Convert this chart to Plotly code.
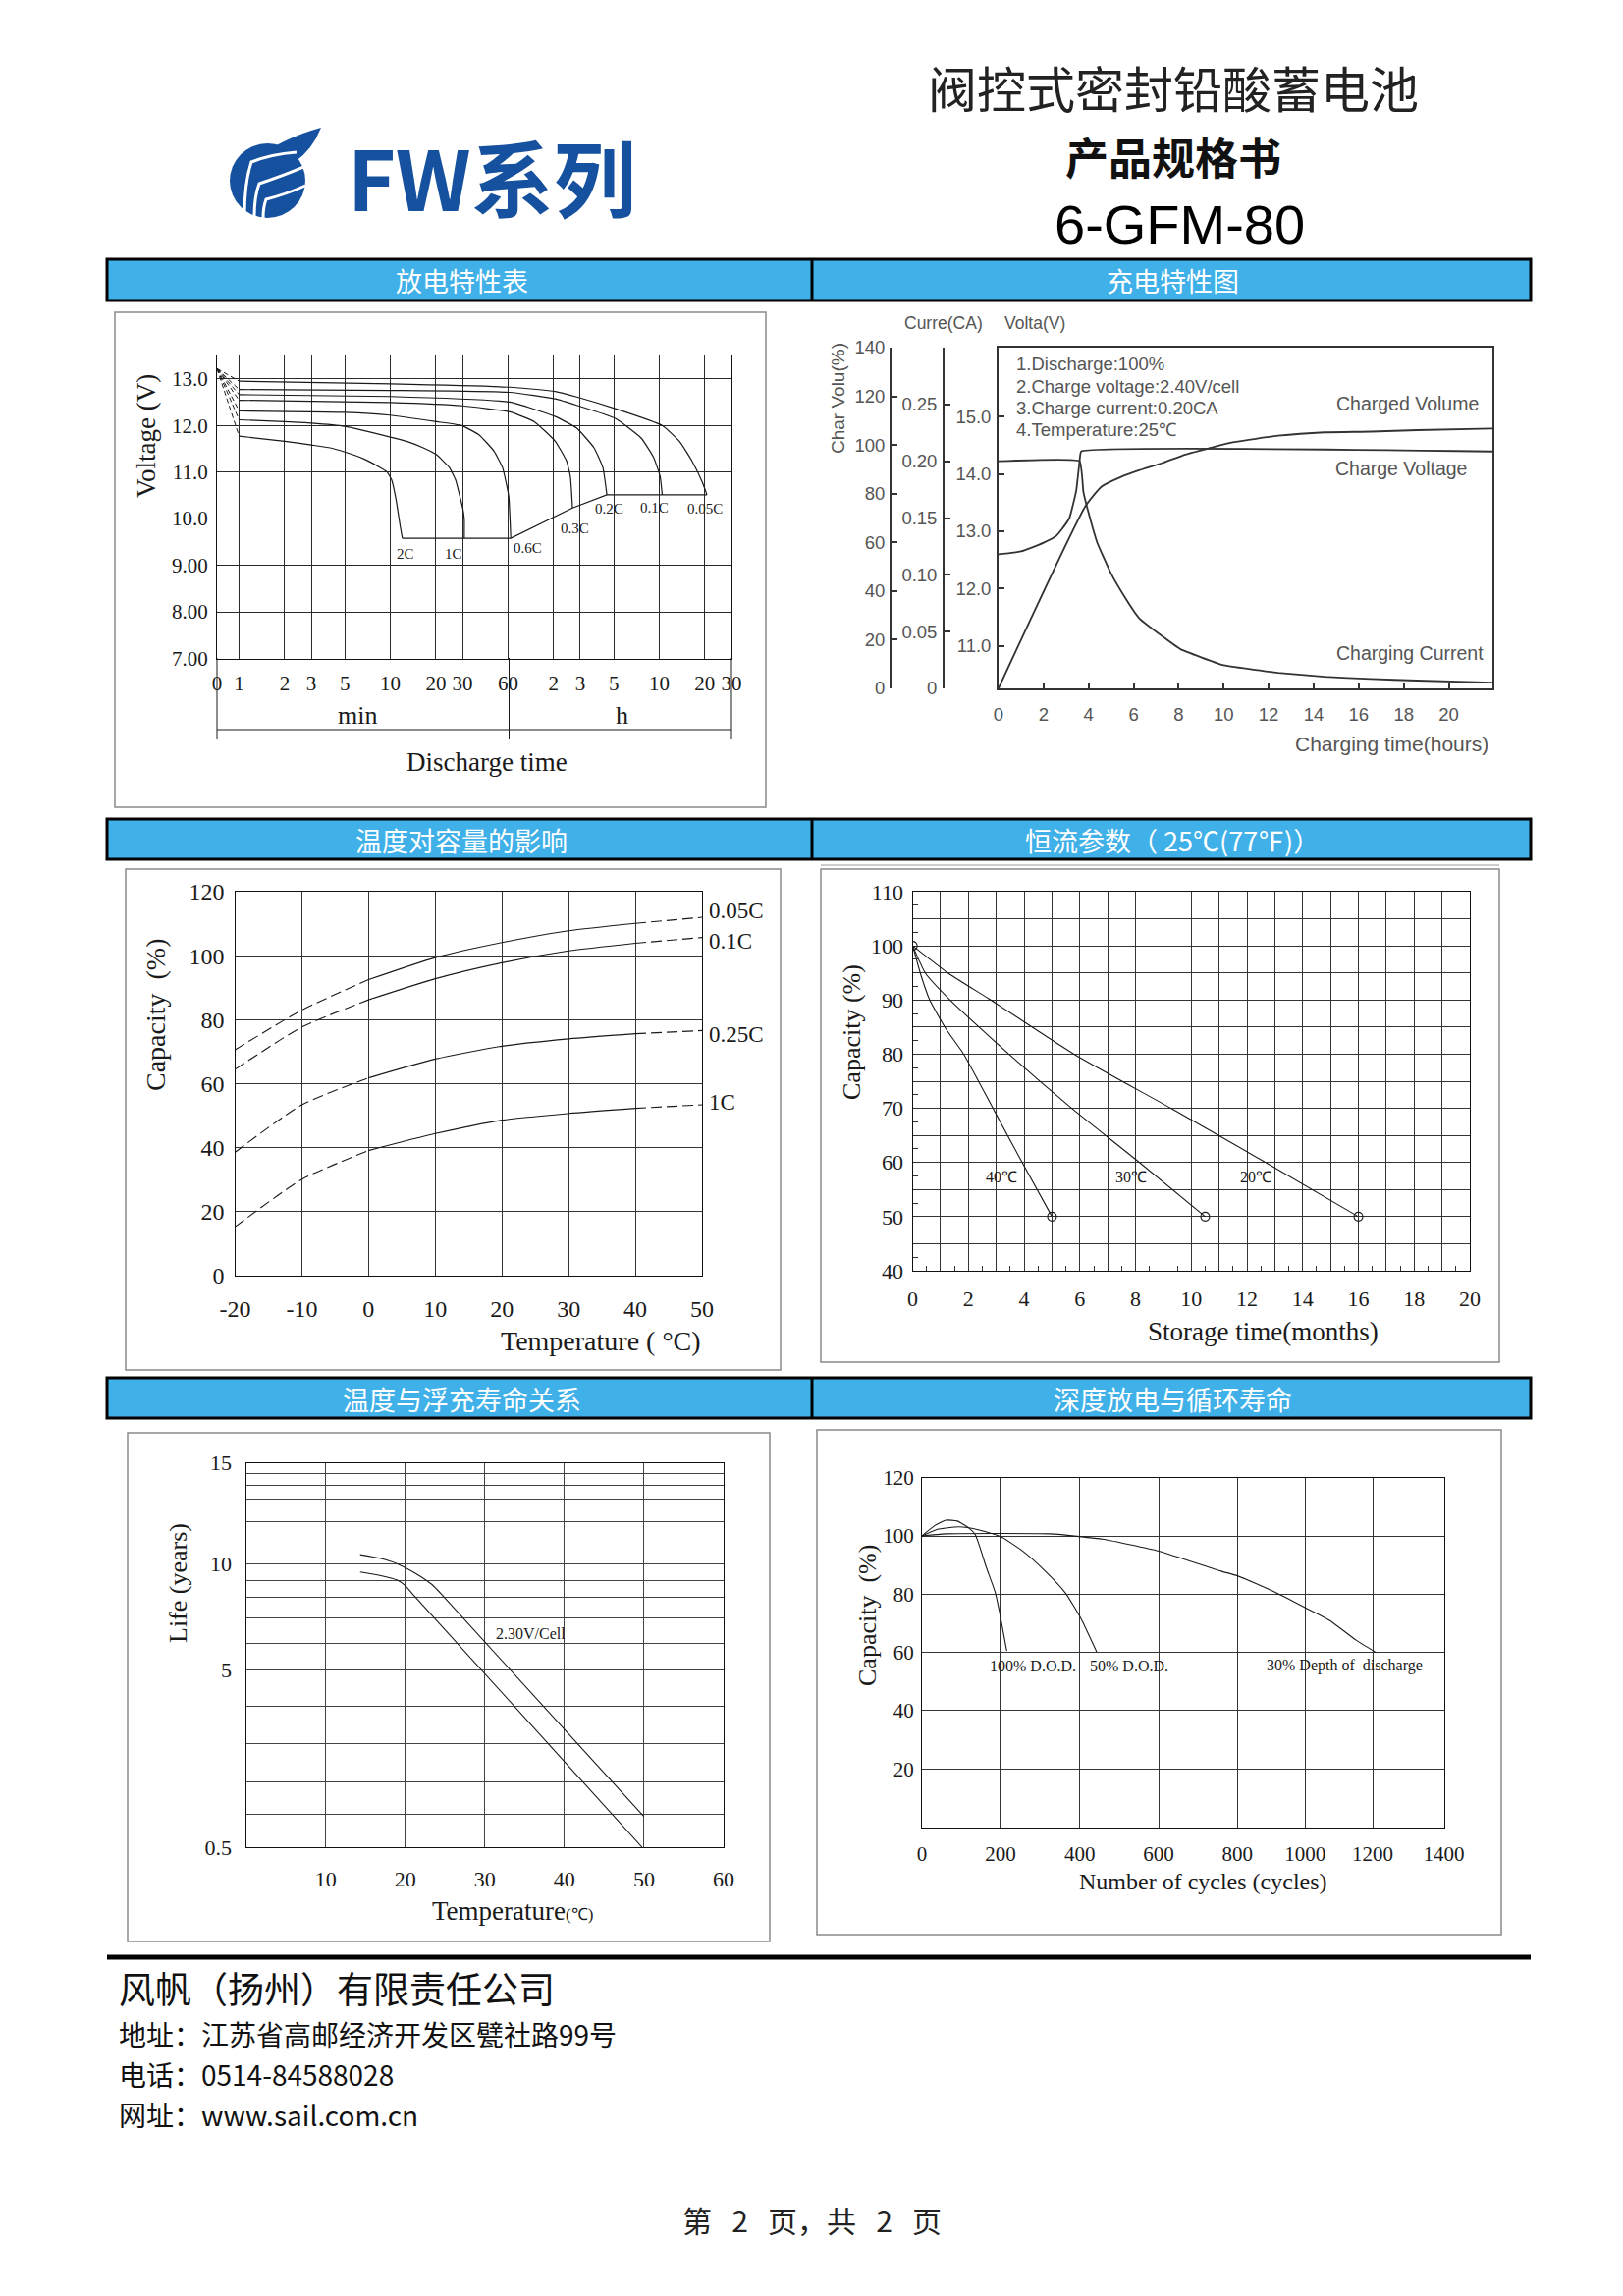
import numpy as np
import plotly.graph_objects as go

# ---------------------------------------------------------------- data
# Chart 1 - discharge characteristics (time in minutes, voltage in V)
DIS_ORIGIN_T = 0.714          # axis origin, printed as "0"
DIS_ORIGIN_V = 13.22
DIS_TICK_MIN = [DIS_ORIGIN_T, 1, 2, 3, 5, 10, 20, 30, 60, 120, 180, 300, 600, 1200, 1800]
DIS_TICK_TEXT = ["0", "1", "2", "3", "5", "10", "20", "30", "60", "2", "3", "5", "10", "20", "30"]
V_TICKS = [7, 8, 9, 10, 11, 12, 13]
V_TICK_TEXT = ["7.00", "8.00", "9.00", "10.0", "11.0", "12.0", "13.0"]
RATES = ["2C", "1C", "0.6C", "0.3C", "0.2C", "0.1C", "0.05C"]
T_2C = [1, 2, 3, 4, 5, 6.7, 8.1, 9.5, 10.2, 10.9, 11.6, 12]
V_2C = [11.77, 11.66, 11.58, 11.52, 11.43, 11.28, 11.14, 11.0, 10.83, 10.41, 9.85, 9.58]
T_1C = [1, 2, 3, 5, 10, 12.8, 16.5, 20.2, 24.5, 27, 28.8, 30.2, 30.8, 30.8]
V_1C = [12.12, 12.08, 12.05, 11.98, 11.75, 11.66, 11.52, 11.37, 11.1, 10.83, 10.48, 10.2, 9.99, 9.58]
T_06C = [1, 5, 9.9, 20.2, 29.4, 38.5, 48.4, 55.1, 60.6, 62.5]
V_06C = [12.31, 12.28, 12.22, 12.08, 12.0, 11.8, 11.45, 11.1, 10.48, 9.58]
T_03C = [1, 10, 30, 61.7, 89.5, 123, 146, 155, 160]
V_03C = [12.54, 12.49, 12.42, 12.29, 12.08, 11.66, 11.24, 10.9, 10.23]
T_02C = [1, 10, 61.7, 123, 171, 222, 254, 270]
V_02C = [12.66, 12.62, 12.50, 12.19, 11.94, 11.52, 11.10, 10.51]
T_01C = [1, 10, 61.7, 123, 171, 307, 455, 551, 608, 627]
V_01C = [12.77, 12.75, 12.71, 12.57, 12.43, 12.15, 11.73, 11.31, 10.90, 10.51]
T_005C = [1, 10, 61.7, 123, 171, 307, 627, 815, 985, 1162, 1239]
V_005C = [12.95, 12.89, 12.82, 12.73, 12.61, 12.36, 12.0, 11.66, 11.24, 10.76, 10.51]

# Chart 2 - charging characteristics (time in hours)
CHG_X_TICKS = [0, 2, 4, 6, 8, 10, 12, 14, 16, 18, 20]
CHG_V_TICKS = [11, 12, 13, 14, 15]
CHG_V_TEXT = ["11.0", "12.0", "13.0", "14.0", "15.0"]
CHG_I_TICKS = [0, 0.05, 0.10, 0.15, 0.20, 0.25]
CHG_I_TEXT = ["0", "0.05", "0.10", "0.15", "0.20", "0.25"]
CHG_P_TICKS = [0, 20, 40, 60, 80, 100, 120, 140]
CHG_T_VOL = [0, 3.87, 4.59, 5.42, 6.24, 7.27, 8.30, 9.33, 10.36, 12.42, 14.48, 16.54, 18.6, 21.94]
CHG_VOL = [0, 75, 83, 86.8, 89.6, 92.6, 96.1, 98.6, 101, 103.8, 105.2, 105.5, 106.1, 106.8]
CHG_T_V = [0, 0.5, 1.0, 1.5, 2.0, 2.53, 2.8, 3.15, 3.3, 3.46, 3.6, 3.67, 21.94]
CHG_V = [12.6, 12.62, 12.65, 12.72, 12.8, 12.91, 13.03, 13.23, 13.45, 13.73, 14.22, 14.39, 14.39]
CHG_T_I = [0, 3.6, 3.77, 3.98, 4.39, 5.0, 5.62, 6.24, 7.27, 8.09, 9.95, 12.42, 14.48, 16.54, 18.6, 21.94]
CHG_I = [0.20, 0.20, 0.173, 0.156, 0.128, 0.101, 0.080, 0.062, 0.046, 0.0345, 0.0207, 0.0138, 0.0102, 0.0083, 0.0069, 0.005]
CHG_NOTES = ["1.Discharge:100%", "2.Charge voltage:2.40V/cell", "3.Charge current:0.20CA", "4.Temperature:25℃"]

# Chart 3 - temperature vs capacity
TEMP_C = [-20, -10, 0, 10, 20, 30, 40, 50]
TEMP_TICKS = [-20, -10, 0, 10, 20, 30, 40, 50]
CAP_TICKS = [0, 20, 40, 60, 80, 100, 120]
CAP_RATES = ["0.05C", "0.1C", "0.25C", "1C"]
CAP_005C = [70.6, 83.0, 92.5, 99.4, 104.1, 107.8, 110.1, 112.0]
CAP_01C = [64.5, 77.7, 86.2, 92.8, 97.8, 101.5, 103.9, 105.7]
CAP_025C = [38.6, 53.4, 61.8, 67.7, 71.7, 74.0, 75.6, 76.6]
CAP_1C = [15.3, 30.1, 39.1, 44.4, 48.6, 50.7, 52.3, 53.4]

# Chart 4 - self discharge (storage months vs capacity %)
STORE_TICKS = [0, 2, 4, 6, 8, 10, 12, 14, 16, 18, 20]
STORE_CAP_TICKS = [40, 50, 60, 70, 80, 90, 100, 110]
STORE_TEMPS = ["40℃", "30℃", "20℃"]
M_40 = [0, 0.3, 0.61, 1.2, 1.83, 2.88, 3.93, 5.0]
C_40 = [100, 94.5, 90, 84.6, 80, 70, 60, 50]
M_30 = [0, 0.45, 1.34, 3.45, 5.71, 8.14, 10.5]
C_30 = [100, 95, 90, 80, 70, 60, 50]
M_20 = [0, 1.26, 2.8, 5.79, 9.27, 12.67, 16.0]
C_20 = [100, 95, 90, 80, 70, 60, 50]

# Chart 5 - float life vs temperature (life in years)
LIFE_X_TICKS = [0, 10, 20, 30, 40, 50, 60]
LIFE_TICK_VALUES = [0.5, 5, 10, 15]
LIFE_TICK_TEXT = ["0.5", "5", "10", "15"]
LIFE_T_UP = [14.33, 16.8, 19.0, 21.2, 23.4, 24.8, 49.97]
LIFE_UP = [10.45, 10.27, 10.0, 9.57, 9.01, 8.46, 1.28]
LIFE_T_LO = [14.33, 16.8, 19.0, 20.0, 21.2, 49.75]
LIFE_LO = [9.61, 9.45, 9.23, 8.97, 8.46, 0.5]

# Chart 6 - cycle life vs depth of discharge
CYCLE_TICK_VALUES = [0, 200, 400, 600, 800, 1000, 1200, 1400]
CYCLE_TICK_TEXT = ["0", "200", "400", "600", "800", "1000", "1200", "1400"]
CYC_CAP_TICKS = [0, 20, 40, 60, 80, 100, 120]
DOD_LABELS = ["100% D.O.D.", "50% D.O.D.", "30% Depth of  discharge"]
CYC_100 = [0, 32, 61, 90, 118, 136, 164, 187, 199, 216]
CAP_100 = [100, 103.5, 105.4, 105.1, 102.9, 100.4, 89.2, 80.5, 73.0, 60.5]
CYC_50 = [0, 38, 95, 141, 200, 256, 313, 364, 403, 443]
CAP_50 = [100, 102.2, 103.1, 102.2, 99.8, 94.8, 87.9, 80.4, 71.7, 60.2]
CYC_30 = [0, 61, 324, 400, 461, 600, 758, 800, 911, 1000, 1071, 1151, 1210]
CAP_30 = [100, 100.7, 100.7, 99.8, 98.8, 94.8, 87.9, 86.3, 80.7, 75.4, 71.1, 64.2, 59.9]

FOOTER_LINES = ["地址：江苏省高邮经济开发区甓社路99号", "电话：0514-84588028", "网址：www.sail.com.cn"]

# ---------------------------------------------------------------- layout helpers
W, H = 1653, 2338
def px(x): return x / W
def py(y): return 1 - y / H

SERIF = "Liberation Serif"
SANS = "Liberation Sans"
CJK = "Noto Sans CJK SC"
INK = "#1a1a1a"
GRAY = "#555555"
BLUE_BAND = "#40B0E8"
LOGO_BLUE = "#15519E"

# printed (non-uniform) axis scales of charts 5 and 6, as percent of the axis length
LIFE_TICK_POS = [0, 46.12, 73.72, 100]
LIFE_GRID_POS = [8.51, 17.01, 26.94, 36.67, 52.93, 59.74, 65.03, 69.28, 84.59, 90.55, 94.05, 97.07]
CYCLE_TICK_POS = [0, 15.03, 30.22, 45.34, 60.45, 73.4, 86.36, 100]
def life_scale(v): return np.interp(v, LIFE_TICK_VALUES, LIFE_TICK_POS)
def cycle_scale(v): return np.interp(v, CYCLE_TICK_VALUES, CYCLE_TICK_POS)

fig = go.Figure()
ann, shp = [], []

def T(x, y, s, size, family=SERIF, color=INK, xanchor="center", yanchor="middle",
      angle=0, xref="paper", yref="paper", align="center"):
    if xref == "paper":
        x = px(x)
    if yref == "paper":
        y = py(y)
    ann.append(dict(x=x, y=y, xref=xref, yref=yref, text=s, showarrow=False,
                    font=dict(family=family, size=size, color=color), align=align,
                    xanchor=xanchor, yanchor=yanchor, textangle=angle))

def rect(x0, y0, x1, y1, color, lw, fill="rgba(0,0,0,0)"):
    shp.append(dict(type="rect", xref="paper", yref="paper", x0=px(x0), x1=px(x1),
                    y0=py(y1), y1=py(y0), line=dict(color=color, width=lw), fillcolor=fill))

def seg(x0, y0, x1, y1, color=INK, lw=1.2):
    shp.append(dict(type="line", xref="paper", yref="paper", x0=px(x0), x1=px(x1),
                    y0=py(y0), y1=py(y1), line=dict(color=color, width=lw)))

def path(cmds, fill=None, color=None, lw=0):
    parts = []
    for c, pts in cmds:
        parts.append(c + " " + " ".join("%.5f,%.5f" % (px(a), py(b)) for a, b in pts))
    d = dict(type="path", xref="paper", yref="paper", path=" ".join(parts),
             line=dict(color=color or "rgba(0,0,0,0)", width=lw))
    d["fillcolor"] = fill if fill else "rgba(0,0,0,0)"
    shp.append(d)

def line(x, y, xa, ya, width=1.3, color=INK, dash="solid", shape="linear", smoothing=0.6):
    ln = dict(width=width, color=color, dash=dash, shape=shape)
    if shape == "spline":
        ln["smoothing"] = smoothing
    fig.add_trace(go.Scatter(x=list(x), y=list(y), xaxis=xa, yaxis=ya, mode="lines",
                             line=ln, hoverinfo="skip", showlegend=False))

def axis_base(grid, size, **kw):
    d = dict(showgrid=True, gridcolor=grid, gridwidth=1, showline=True, linecolor="#111",
             linewidth=1.3, mirror=True, zeroline=False, ticks="", tickangle=0,
             tickfont=dict(family=SERIF, size=size, color=INK), fixedrange=True,
             tickmode="array", automargin=False)
    d.update(kw)
    return d

# ---------------------------------------------------------------- page header
shp.append(dict(type="circle", xref="paper", yref="paper", x0=px(234), x1=px(311),
                y0=py(222), y1=py(146), fillcolor=LOGO_BLUE, line=dict(width=0)))
path([("M", [(252, 167)]), ("Q", [(286, 141), (327, 130)]), ("Q", [(318, 153), (300, 165)]),
      ("Q", [(283, 175), (262, 181)]), ("Z", [])], fill=LOGO_BLUE)
path([("M", [(249, 219)]), ("Q", [(249, 186), (256, 165)]), ("Q", [(276, 157), (302, 155)])], color="white", lw=3)
path([("M", [(259, 221)]), ("Q", [(259, 200), (264, 187)]), ("Q", [(286, 180), (312, 169)])], color="white", lw=3)
path([("M", [(268, 222)]), ("Q", [(268, 211), (271, 203)]), ("Q", [(291, 198), (311, 189)])], color="white", lw=3)
T(352, 178, "<b>FW系列</b>", 84, family=CJK, color=LOGO_BLUE, xanchor="left")

T(1195, 88, "阀控式密封铅酸蓄电池", 50, family=CJK, color="#222")
T(1195, 159, "<b>产品规格书</b>", 44, family=CJK, color="#111")
T(1201, 228, "6-GFM-80", 56, family=SANS, color="#000")

# section bands
BAND_TITLES = [("放电特性表", "充电特性图"), ("温度对容量的影响", "恒流参数（ 25℃(77℉)）"),
               ("温度与浮充寿命关系", "深度放电与循环寿命")]
for (top, bot), (lt, rt) in zip([(264, 306), (834, 875), (1403, 1444)], BAND_TITLES):
    rect(109, top, 1559, bot, "#000", 3, fill=BLUE_BAND)
    seg(827, top, 827, bot, "#000", 3)
    T(470, (top + bot) / 2 + 1, lt, 27, family=CJK, color="white")
    T(1194, (top + bot) / 2 + 1, rt, 27, family=CJK, color="white")

# chart frames
rect(117, 318, 780, 822, "#8a8a8a", 1.5)
rect(128, 885, 795, 1395, "#8a8a8a", 1.5)
rect(836, 885, 1527, 1387, "#8a8a8a", 1.5)
seg(836, 881, 1527, 881, "#9a9a9a", 1)
rect(130, 1459, 784, 1977, "#8a8a8a", 1.5)
rect(832, 1456, 1529, 1970, "#8a8a8a", 1.5)

# footer
seg(109, 1993, 1559, 1993, "#000", 5)
T(119, 2024, "风帆（扬州）有限责任公司", 37, family=CJK, color="#111", xanchor="left")
for i, s in enumerate(FOOTER_LINES):
    T(119, 2071 + i * 41, s, 28, family=CJK, color="#111", xanchor="left")
T(827, 2260, "第&nbsp;&nbsp;&nbsp;2&nbsp;&nbsp;&nbsp;页，共&nbsp;&nbsp;&nbsp;2&nbsp;&nbsp;&nbsp;页", 30,
  family=CJK, color="#222")

# ---------------------------------------------------------------- chart 1
DIS_CURVES = [(T_2C, V_2C), (T_1C, V_1C), (T_06C, V_06C), (T_03C, V_03C),
              (T_02C, V_02C), (T_01C, V_01C), (T_005C, V_005C)]
for t, v in DIS_CURVES:
    line([DIS_ORIGIN_T, t[0]], [DIS_ORIGIN_V, v[0]], "x", "y", width=1, dash="5px,3px")
    line(t, v, "x", "y", width=1.2, shape="spline", smoothing=0.4)
line([t[-1] for t, _ in DIS_CURVES], [v[-1] for _, v in DIS_CURVES], "x", "y", width=1.2)
DIS_LABEL_POS = [(12.6, 9.25), (26.1, 9.25), (81, 9.36), (166, 9.8), (278, 10.22), (555, 10.24), (1198, 10.22)]
for name, (lx, ly) in zip(RATES, DIS_LABEL_POS):
    T(np.log10(lx), ly, name, 15, xref="x", yref="y")

X1L, X1M, X1R = 221, 518.5, 745
for xx in (X1L, X1M, X1R):
    seg(xx, 670, xx, 753, INK, 1)
seg(X1L, 743, X1R, 743, INK, 1)
for tip, d in ((X1L, 1), (X1M, -1), (X1M + 1, 1), (X1R, -1)):
    path([("M", [(tip, 743)]), ("L", [(tip + 17 * d, 739.5), (tip + 17 * d, 746.5)]), ("Z", [])], fill=INK)
T(364, 729, "min", 26)
T(633, 729, "h", 26)
T(496, 776, "Discharge time", 27)
T(149, 444, "Voltage (V)", 27, angle=-90)

# ---------------------------------------------------------------- chart 2
line(CHG_T_VOL, CHG_VOL, "x2", "y4", width=1.8, color="#333", shape="spline", smoothing=0.5)
line(CHG_T_V, CHG_V, "x2", "y2", width=1.8, color="#333", shape="spline", smoothing=0.3)
line(CHG_T_I, CHG_I, "x2", "y3", width=1.8, color="#333", shape="spline", smoothing=0.3)
T(961, 329, "Curre(CA)", 17.5, family=SANS, color=GRAY)
T(1021, 329, "Volta(V)", 17.5, family=SANS, color=GRAY, xanchor="left")
T(853, 405, "Char Volu(%)", 19, family=SANS, color=GRAY, angle=-90)
for i, s in enumerate(CHG_NOTES):
    T(1033, 371 + i * 22.3, s, 18.5, family=SANS, color=GRAY, xanchor="left")
T(1359, 411, "Charged Volume", 19.5, family=SANS, color=GRAY, xanchor="left")
T(1358, 477, "Charge Voltage", 19.5, family=SANS, color=GRAY, xanchor="left")
T(1359, 665, "Charging Current", 19.5, family=SANS, color=GRAY, xanchor="left")
T(1518, 758, "Charging time(hours)", 21, family=SANS, color=GRAY, xanchor="right")

# ---------------------------------------------------------------- chart 3
CAP_SERIES = [CAP_005C, CAP_01C, CAP_025C, CAP_1C]
for cap in CAP_SERIES:
    line(TEMP_C[:3], cap[:3], "x3", "y5", width=1.1, dash="11px,5px", shape="spline")
    line(TEMP_C[2:7], cap[2:7], "x3", "y5", width=1.1, shape="spline")
    line(TEMP_C[6:], cap[6:], "x3", "y5", width=1.1, dash="11px,5px", shape="spline")
for name, yy in zip(CAP_RATES, [927, 958, 1053, 1122]):
    T(720, yy, name, 23, xanchor="left")
T(159, 1033, "Capacity  (%)", 28, angle=-90)
T(612, 1365, "Temperature ( °C)", 28)

# ---------------------------------------------------------------- chart 4
STORE_SERIES = [(M_40, C_40), (M_30, C_30), (M_20, C_20)]
for m, c in STORE_SERIES:
    line(m, c, "x4", "y6", width=1.1, shape="spline", smoothing=0.5)
fig.add_trace(go.Scatter(x=[STORE_SERIES[0][0][0]] + [m[-1] for m, _ in STORE_SERIES],
                         y=[STORE_SERIES[0][1][0]] + [c[-1] for _, c in STORE_SERIES],
                         xaxis="x4", yaxis="y6", mode="markers", hoverinfo="skip", showlegend=False,
                         marker=dict(symbol="circle-open", size=9, color=INK, line=dict(width=1.1))))
for name, lx in zip(STORE_TEMPS, [3.2, 7.85, 12.3]):
    T(lx, 57.3, name, 16, xref="x4", yref="y6")
T(867, 1051, "Capacity (%)", 26, angle=-90)
T(1286, 1356, "Storage time(months)", 27)

# ---------------------------------------------------------------- chart 5
line(LIFE_T_UP, life_scale(LIFE_UP), "x5", "y7", width=1.1, shape="spline", smoothing=0.5)
line(LIFE_T_LO, life_scale(LIFE_LO), "x5", "y7", width=1.1, shape="spline", smoothing=0.5)
T(503, 1663, "2.30V/Cell", 16, xanchor="left")
T(181, 1612, "Life (years)", 26, angle=-90)
T(522, 1946, "Temperature<span style='font-size:17px'>(℃)</span>", 27)

# ---------------------------------------------------------------- chart 6
for cyc, cap in [(CYC_100, CAP_100), (CYC_50, CAP_50), (CYC_30, CAP_30)]:
    line(cycle_scale(cyc), cap, "x6", "y8", width=1.1, shape="spline", smoothing=0.5)
for name, cx in zip(DOD_LABELS, [1052, 1150, 1369]):
    T(cx, 1696, name, 16)
T(883, 1645, "Capacity  (%)", 26, angle=-90)
T(1225, 1916, "Number of cycles (cycles)", 24)

# ---------------------------------------------------------------- axes
gfont = dict(family=SANS, size=18.5, color=GRAY)
life_grid = sorted(LIFE_TICK_POS + LIFE_GRID_POS)
life_text = [LIFE_TICK_TEXT[LIFE_TICK_POS.index(p)] if p in LIFE_TICK_POS else "" for p in life_grid]
store_grid = list(range(STORE_TICKS[0], STORE_TICKS[-1] + 1))
store_cap_grid = list(range(STORE_CAP_TICKS[0], STORE_CAP_TICKS[-1] + 1, 5))
chg_common = dict(ticks="inside", ticklen=6, tickcolor="#333", tickwidth=1.5, showline=True,
                  linecolor="#333", linewidth=1.8, showgrid=False, zeroline=False,
                  tickfont=gfont, fixedrange=True, tickmode="array", automargin=False)

fig.update_layout(
    width=W, height=H, autosize=False,
    margin=dict(l=0, r=0, t=0, b=0, pad=0, autoexpand=False),
    paper_bgcolor="white", plot_bgcolor="rgba(0,0,0,0)", showlegend=False,
    annotations=ann, shapes=shp,
    xaxis=axis_base("#2a2a2a", 21, domain=[px(221), px(745)], anchor="y", type="log",
                    range=[np.log10(DIS_ORIGIN_T), np.log10(DIS_TICK_MIN[-1])],
                    tickvals=DIS_TICK_MIN, ticktext=DIS_TICK_TEXT, ticklabelstandoff=6),
    yaxis=axis_base("#2a2a2a", 21, domain=[py(670.5), py(362)], anchor="x", range=[7, 13.5],
                    tickvals=V_TICKS, ticktext=V_TICK_TEXT, ticklabelstandoff=4),
    xaxis2=dict(domain=[px(1017), px(1520)], anchor="y2", range=[0, 21.94],
                tickvals=CHG_X_TICKS, mirror=True, ticklabelstandoff=9, **chg_common),
    yaxis2=dict(domain=[py(701), py(354)], anchor="x2", range=[10.26, 16.2],
                tickvals=CHG_V_TICKS, ticktext=CHG_V_TEXT, mirror=True, ticklabelstandoff=2, **chg_common),
    yaxis3=dict(overlaying="y2", anchor="free", position=px(961), side="left", range=[0, 0.30],
                tickvals=CHG_I_TICKS, ticktext=CHG_I_TEXT, ticklabelstandoff=2, **chg_common),
    yaxis4=dict(overlaying="y2", anchor="free", position=px(907), side="left", range=[0, 140],
                tickvals=CHG_P_TICKS, ticklabelstandoff=1, **chg_common),
    xaxis3=axis_base("#333", 24, domain=[px(239.5), px(715)], anchor="y5", range=[-20, 50],
                     tickvals=TEMP_TICKS, ticktext=[str(v) for v in TEMP_TICKS], ticklabelstandoff=12),
    yaxis5=axis_base("#333", 24, domain=[py(1299), py(908)], anchor="x3", range=[0, 120],
                     tickvals=CAP_TICKS, ticktext=[str(v) for v in CAP_TICKS], ticklabelstandoff=5),
    xaxis4=axis_base("#333", 22, domain=[px(929.6), px(1497)], anchor="y6", range=[0, 20],
                     tickvals=store_grid,
                     ticktext=[str(v) if v in STORE_TICKS else "" for v in store_grid],
                     minor=dict(tickvals=[v + 0.5 for v in store_grid[:-1]], ticks="inside",
                                ticklen=5, tickcolor="#333", showgrid=False),
                     ticklabelstandoff=8),
    yaxis6=axis_base("#333", 22, domain=[py(1294), py(908)], anchor="x4", range=[40, 110],
                     tickvals=store_cap_grid,
                     ticktext=[str(v) if v in STORE_CAP_TICKS else "" for v in store_cap_grid],
                     minor=dict(tickvals=[v + 2.5 for v in store_cap_grid[:-1]], ticks="inside",
                                ticklen=5, tickcolor="#333", showgrid=False),
                     ticklabelstandoff=4),
    xaxis5=axis_base("#444", 22, domain=[px(250.6), px(737)], anchor="y7", range=[0, 60],
                     tickvals=LIFE_X_TICKS, ticktext=[""] + [str(v) for v in LIFE_X_TICKS[1:]],
                     ticklabelstandoff=12),
    yaxis7=axis_base("#444", 22, domain=[py(1881), py(1489.5)], anchor="x5", range=[0, 100],
                     tickvals=life_grid, ticktext=life_text, ticklabelstandoff=9),
    xaxis6=axis_base("#333", 21, domain=[px(939), px(1470.6)], anchor="y8", range=[0, 100],
                     tickvals=CYCLE_TICK_POS, ticktext=CYCLE_TICK_TEXT, ticklabelstandoff=8),
    yaxis8=axis_base("#333", 21, domain=[py(1860.5), py(1504.7)], anchor="x6", range=[0, 120],
                     tickvals=CYC_CAP_TICKS, ticktext=[""] + [str(v) for v in CYC_CAP_TICKS[1:]],
                     ticklabelstandoff=3),
)

fig.write_html("out.html", config={"displayModeBar": False},
               post_script="document.body.style.margin='0';document.body.style.overflow='hidden';")
